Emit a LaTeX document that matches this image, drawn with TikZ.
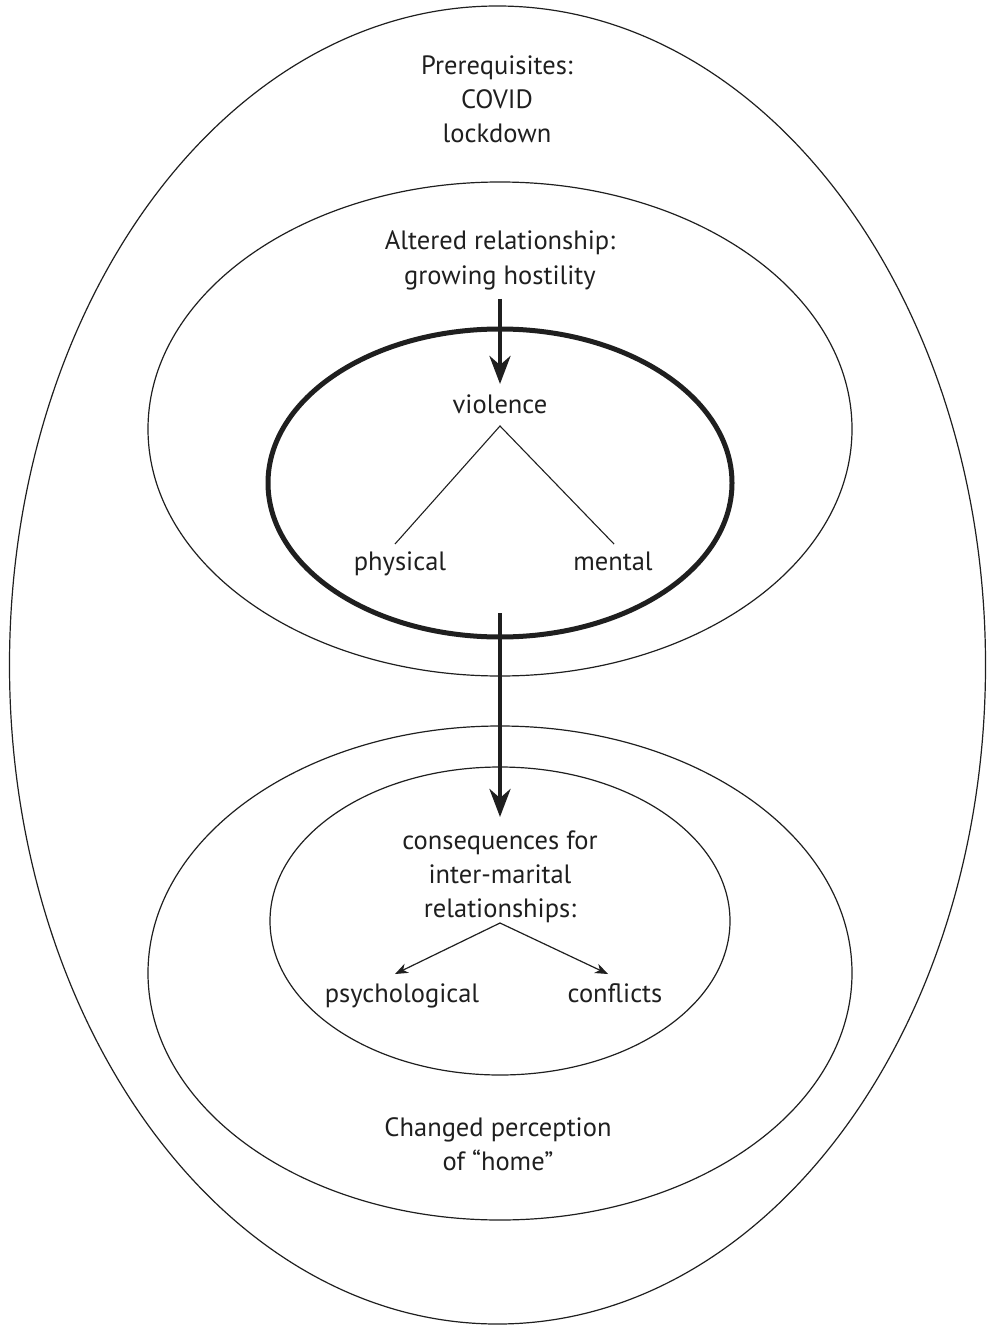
\documentclass[tikz,border=0pt]{standalone}
\usepackage{fontspec}
\setmainfont{PT Sans}
\usetikzlibrary{arrows.meta}
\begin{document}
\begin{tikzpicture}[x=1pt,y=-1pt,
  ring/.style={draw=black!88, line width=1.2pt},
  boldring/.style={draw=black!88, line width=5pt},
  lbl/.style={font=\fontsize{26.5}{34}\selectfont, text=black!88, align=center, inner sep=0pt, anchor=base},
  bigarrow/.style={draw=black!88, line width=4.5pt, -{Stealth[length=28pt,width=21pt,inset=9pt]}},
  smallarrow/.style={draw=black!88, line width=1.2pt, -{Stealth[length=13pt,width=10pt,inset=4pt]}},
  branch/.style={draw=black!88, line width=1.1pt}]
\useasboundingbox (0,0) rectangle (988,1329);
% ellipses
\draw[ring] (497.5,665) ellipse [x radius=488, y radius=659];
\draw[ring] (500,429) ellipse [x radius=352, y radius=247];
\draw[boldring] (500,483) ellipse [x radius=232, y radius=154];
\draw[ring] (500,973) ellipse [x radius=352, y radius=247];
\draw[ring] (500,921) ellipse [x radius=230, y radius=154];
% labels (base = baseline of the last line)
\node[lbl] (prereq) at (497,143) {Prerequisites:\\COVID\\lockdown};
\node[lbl] (altered) at (500,284) {Altered relationship:\\growing hostility};
\node[lbl] (violence) at (500,413) {violence};
\node[lbl] (physical) at (400,570) {physical};
\node[lbl] (mental) at (613,570) {mental};
\node[lbl] (conseq) at (500,917) {consequences for\\inter-marital\\relationships:};
\node[lbl] (psych) at (402,1002) {psychological};
\node[lbl] (confl) at (615,1002) {conflicts};
\node[lbl] (home) at (498,1170) {Changed perception\\of “home”};
% connector end points
\coordinate (a1s) at (500,299);
\coordinate (a1e) at (500,384);
\coordinate (a2s) at (500,613);
\coordinate (a2e) at (500,817);
\coordinate (vapex) at (500,426);
\coordinate (vleft) at (395,544);
\coordinate (vright) at (614,544);
\coordinate (capex) at (500,923);
\coordinate (cleft) at (395,974);
\coordinate (cright) at (608,974);
% connectors
\draw[bigarrow] (a1s) -- (a1e);
\draw[bigarrow] (a2s) -- (a2e);
\draw[branch] (vleft) -- (vapex) -- (vright);
\draw[smallarrow] (capex) -- (cleft);
\draw[smallarrow] (capex) -- (cright);
\end{tikzpicture}
\end{document}
